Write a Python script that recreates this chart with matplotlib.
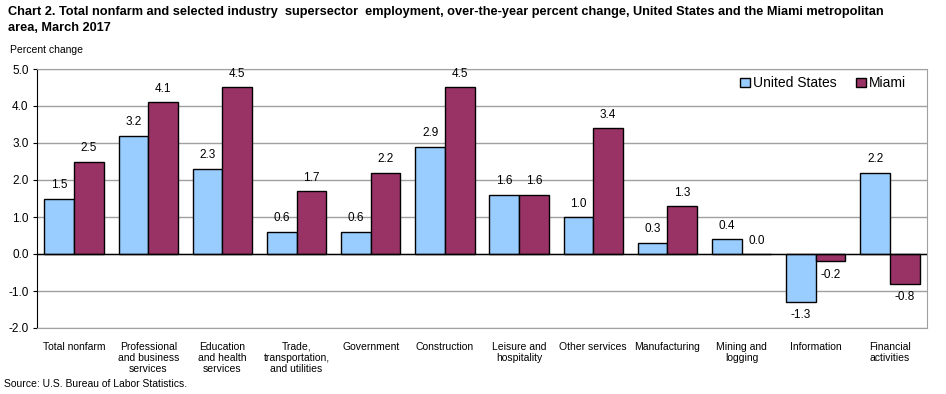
import numpy as np
import matplotlib.pyplot as plt
from matplotlib.patches import Patch

categories = ['Total nonfarm', 'Professional\nand business\nservices', 'Education\nand health\nservices',
              'Trade,\ntransportation,\nand utilities', 'Government', 'Construction',
              'Leisure and\nhospitality', 'Other services', 'Manufacturing', 'Mining and\nlogging',
              'Information', 'Financial\nactivities']
us = [1.5, 3.2, 2.3, 0.6, 0.6, 2.9, 1.6, 1.0, 0.3, 0.4, -1.3, 2.2]
miami = [2.5, 4.1, 4.5, 1.7, 2.2, 4.5, 1.6, 3.4, 1.3, 0.0, -0.2, -0.8]
yticks = [-2.0, -1.0, 0.0, 1.0, 2.0, 3.0, 4.0, 5.0]

c_us = '#99ccff'
c_mi = '#993366'
plt.rcParams['font.family'] = ['Liberation Sans', 'DejaVu Sans']

fig = plt.figure(figsize=(9.46, 3.94), dpi=100)
ax = fig.add_axes([37 / 946, 66 / 394, 890 / 946, 259 / 394])

x = np.arange(len(categories))
w = 0.4
b1 = ax.bar(x - w / 2, us, w, color=c_us, edgecolor='black', linewidth=1, zorder=3)
b2 = ax.bar(x + w / 2, miami, w, color=c_mi, edgecolor='black', linewidth=1, zorder=3)

for bars, vals in ((b1, us), (b2, miami)):
    for r, v in zip(bars, vals):
        cx = r.get_x() + r.get_width() / 2
        if v >= 0:
            ax.text(cx, v + 0.2, f'{v:.1f}', ha='center', va='bottom', fontsize=8.5)
        else:
            ax.text(cx, v - 0.2, f'{v:.1f}', ha='center', va='top', fontsize=8.5)

ax.set_xlim(-0.5, len(categories) - 0.5)
ax.set_ylim(-2, 5)
ax.set_yticks(yticks)
ax.set_yticklabels([f'{t:.1f}' for t in yticks], fontsize=8.5)
ax.yaxis.grid(True, color='#a0a0a0', linewidth=1, zorder=0)
ax.axhline(0, color='black', linewidth=1, zorder=4)
ax.set_xticks(x)
ax.set_xticklabels(categories, fontsize=7.5, va='top', linespacing=1.12)
ax.tick_params(axis='x', length=0, pad=10)
ax.tick_params(axis='y', length=3, pad=3)
for s in ['top', 'right', 'bottom']:
    ax.spines[s].set_color('#a0a0a0')
ax.spines['left'].set_color('black')

handles = [Patch(facecolor=c_us, edgecolor='black'), Patch(facecolor=c_mi, edgecolor='black')]
ax.legend(handles, ['United States', 'Miami'], loc='upper right', bbox_to_anchor=(0.99, 1.02),
          ncol=2, frameon=False, fontsize=10, handlelength=0.7, handleheight=0.7,
          handletextpad=0.2, columnspacing=1.4)

fig.text(8 / 946, 1 - 20 / 394, 'Chart 2. Total nonfarm and selected industry  supersector  employment, over-the-year percent change, United States and the Miami metropolitan\narea, March 2017',
         fontsize=9.2, fontweight='bold', va='center', linespacing=1.4)
fig.text(10 / 946, 1 - 50 / 394, 'Percent change', fontsize=7.5, va='center')
fig.text(4 / 946, 1 - 384 / 394, 'Source: U.S. Bureau of Labor Statistics.', fontsize=7.5, va='center')

fig.savefig('out.png', dpi=100)
